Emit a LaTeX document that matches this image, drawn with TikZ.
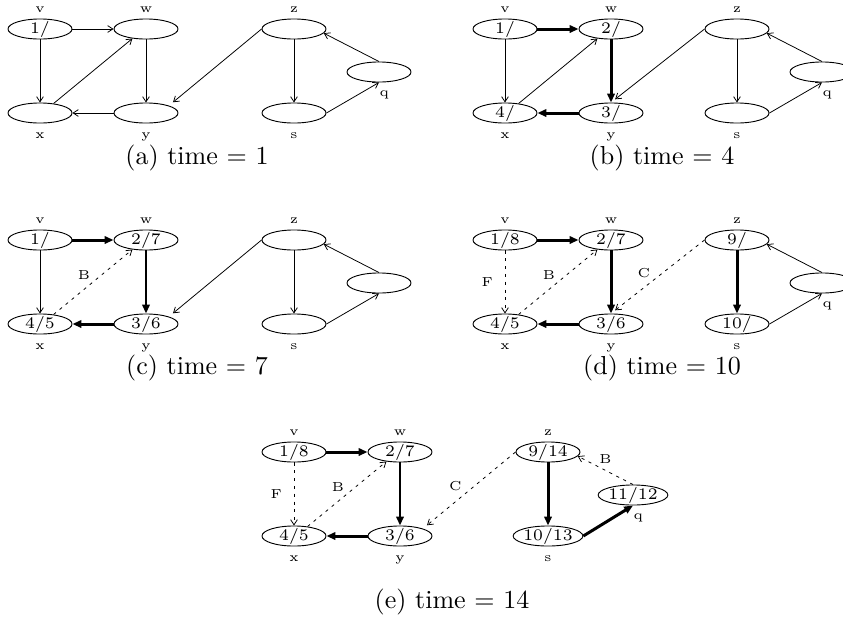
\documentclass[tikz,border=0pt]{standalone}
\usepackage{tikz}
\usetikzlibrary{shapes.geometric, arrows.meta, positioning}

\tikzset{
  vtx/.style={draw, ellipse, line width=0.35pt, minimum width=24.6pt, minimum height=7.7pt,
    inner sep=0pt, font=\fontsize{6.2}{7}\selectfont, text height=4pt, text depth=0.6pt},
  vlbl/.style={font=\tiny, inner sep=0.5pt},
  nameup/.style={label={[vlbl, label distance=1.5pt]above:#1}},
  namedn/.style={label={[vlbl, label distance=3pt]below:#1}},
  qlab/.style={label={[vlbl, label distance=2.5pt, xshift=2pt]below:q}},
  thinarr/.style={line width=0.3pt, -{Straight Barb[length=2pt, width=2.6pt]}},
  treearr/.style={line width=1.15pt, -{Triangle[length=3.4pt, width=2.8pt]}},
  dasharr/.style={thinarr, dash pattern=on 1.2pt off 1.8pt},
  gapend/.style={shorten >=2pt},
  elbl/.style={font=\tiny, inner sep=1pt},
  caption/.style={font=\normalsize, inner sep=0pt},
}

% the seven vertices of one panel: prefix, x of z, then v w x y z s q
\newcommand\dfsnodes[9]{%
  \node[vtx, nameup=v] (#1-v) at (0,0) {#3};
  \node[vtx, nameup=w] (#1-w) at (106,0) {#4};
  \node[vtx, namedn=x] (#1-x) at (0,84) {#5};
  \node[vtx, namedn=y] (#1-y) at (106,84) {#6};
  \node[vtx, nameup=z] (#1-z) at (#2,0) {#7};
  \node[vtx, namedn=s] (#1-s) at (#2,84) {#8};
  \node[vtx, qlab] (#1-q) at (#2+85,43) {#9};
}

\begin{document}
\begin{tikzpicture}[x=0.3843pt, y=-0.3843pt]
  \useasboundingbox (0,0) rectangle (843,619);

  % (a)
  \begin{scope}[shift={(40,29)}]
    \dfsnodes{a}{254}{1/}{}{}{}{}{}{}
    \draw[thinarr] (a-v) -- (a-w);
    \draw[thinarr] (a-v) -- (a-x);
    \draw[thinarr] (a-x.35) -- (a-w.215);
    \draw[thinarr] (a-w) -- (a-y);
    \draw[thinarr] (a-y) -- (a-x);
    \draw[thinarr, gapend] (a-z.west) -- (a-y.north east);
    \draw[thinarr] (a-z) -- (a-s);
    \draw[thinarr] (a-q.north) -- (a-z.-8);
    \draw[thinarr] (a-s.east) -- (a-q.south);
    \node[caption] (a-cap) at (157,129) {(a) time $=$ 1};
  \end{scope}

  % (b)
  \begin{scope}[shift={(505,29)}]
    \dfsnodes{b}{232}{1/}{2/}{4/}{3/}{}{}{}
    \draw[treearr] (b-v) -- (b-w);
    \draw[thinarr] (b-v) -- (b-x);
    \draw[thinarr] (b-x.35) -- (b-w.215);
    \draw[treearr] (b-w) -- (b-y);
    \draw[treearr] (b-y) -- (b-x);
    \draw[thinarr, gapend] (b-z.west) -- (b-y.north);
    \draw[thinarr] (b-z) -- (b-s);
    \draw[thinarr] (b-q.north) -- (b-z.-8);
    \draw[thinarr] (b-s.east) -- (b-q.south);
    \node[caption] (b-cap) at (157,129) {(b) time $=$ 4};
  \end{scope}

  % (c)
  \begin{scope}[shift={(40,240)}, qlab/.style={}]
    \dfsnodes{c}{254}{1/}{2/7}{4/5}{3/6}{}{}{}
    \draw[treearr] (c-v) -- (c-w);
    \draw[thinarr] (c-v) -- (c-x);
    \draw[dasharr] (c-x.35) -- node[elbl, above left] {B} (c-w.215);
    \draw[treearr] (c-w) -- (c-y);
    \draw[treearr] (c-y) -- (c-x);
    \draw[thinarr, gapend] (c-z.west) -- (c-y.north east);
    \draw[thinarr] (c-z) -- (c-s);
    \draw[thinarr] (c-q.north) -- (c-z.-8);
    \draw[thinarr] (c-s.east) -- (c-q.south);
    \node[caption] (c-cap) at (157,128) {(c) time $=$ 7};
  \end{scope}

  % (d)
  \begin{scope}[shift={(505,240)}]
    \dfsnodes{d}{232}{1/8}{2/7}{4/5}{3/6}{9/}{10/}{}
    \draw[treearr] (d-v) -- (d-w);
    \draw[dasharr] (d-v) -- node[elbl, left=3.5pt] {F} (d-x);
    \draw[dasharr] (d-x.35) -- node[elbl, above left] {B} (d-w.215);
    \draw[treearr] (d-w) -- (d-y);
    \draw[treearr] (d-y) -- (d-x);
    \draw[dasharr, gapend] (d-z.west) -- node[elbl, pos=0.55, above left] {C} (d-y.north);
    \draw[treearr] (d-z) -- (d-s);
    \draw[thinarr] (d-q.north) -- (d-z.-8);
    \draw[thinarr] (d-s.east) -- (d-q.south);
    \node[caption] (d-cap) at (157,128) {(d) time $=$ 10};
  \end{scope}

  % (e)
  \begin{scope}[shift={(294,452)}]
    \dfsnodes{e}{254}{1/8}{2/7}{4/5}{3/6}{9/14}{10/13}{11/12}
    \draw[treearr] (e-v) -- (e-w);
    \draw[dasharr] (e-v) -- node[elbl, left=3.5pt] {F} (e-x);
    \draw[dasharr] (e-x.35) -- node[elbl, above left] {B} (e-w.215);
    \draw[treearr] (e-w) -- (e-y);
    \draw[treearr] (e-y) -- (e-x);
    \draw[dasharr, gapend] (e-z.west) -- node[elbl, pos=0.55, above left] {C} (e-y.north east);
    \draw[treearr] (e-z) -- (e-s);
    \draw[dasharr] (e-q.north) -- node[elbl, above=1.5pt] {B} (e-z.-8);
    \draw[treearr] (e-s.east) -- (e-q.south);
    \node[caption] (e-cap) at (158,150) {(e) time $=$ 14};
  \end{scope}
\end{tikzpicture}
\end{document}
